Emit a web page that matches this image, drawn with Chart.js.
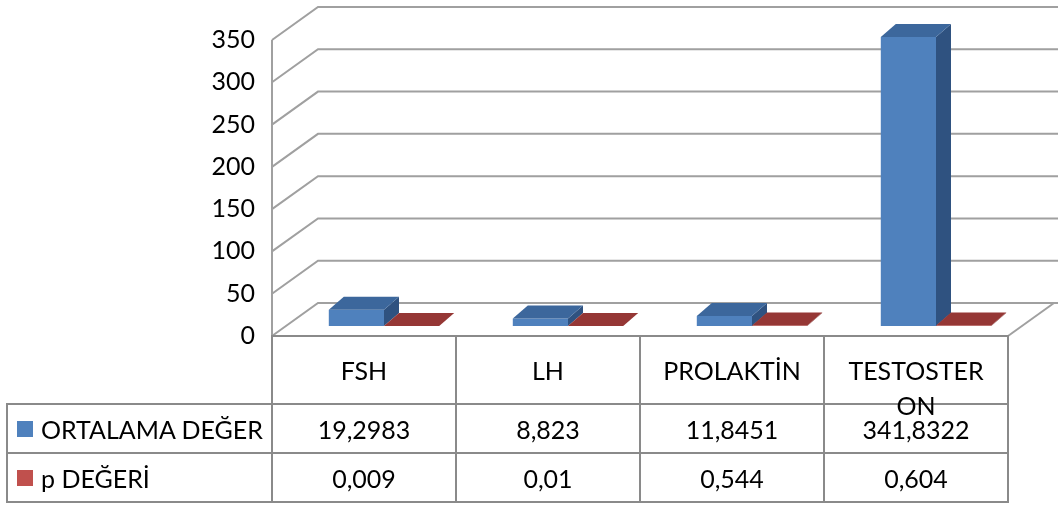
<!DOCTYPE html>
<html>
<head>
<meta charset="utf-8">
<script src="https://cdn.jsdelivr.net/npm/chart.js@4"></script>
<style>
  html, body { margin: 0; padding: 0; background: #fff; }
  #wrap { position: relative; width: 1058px; height: 507px; overflow: hidden; }
  #c { position: absolute; left: 0; top: 0; }
  #tbl { position: absolute; left: 0; top: 0; width: 1058px; height: 507px; pointer-events: none;
         font-family: Lato, "Open Sans", sans-serif; font-size: 25px; color: #000; }
  .hl { position: absolute; height: 2px; background: #8a8a8a; }
  .vl { position: absolute; width: 2px; background: #8a8a8a; }
  .cell { position: absolute; display: flex; align-items: center; justify-content: center; text-align: center; white-space: nowrap; }
  .head { position: absolute; text-align: center; line-height: 35px; word-break: break-all; box-sizing: border-box; padding: 17px 16px 0 16px; }
  .leg { position: absolute; display: flex; align-items: center; white-space: nowrap; }
  .sw { display: inline-block; width: 16px; height: 16px; margin-right: 8px; }
</style>
</head>
<body>
<div id="wrap">
  <canvas id="c" width="1058" height="507"></canvas>
  <div id="tbl"></div>
</div>
<script>
// ---- data ----
const categories = ["FSH", "LH", "PROLAKTİN", "TESTOSTERON"];
const seriesNames = ["ORTALAMA DEĞER", "p DEĞERİ"];
const ortalamaDeger = [19.2983, 8.823, 11.8451, 341.8322];
const pDegeri = [0.009, 0.01, 0.544, 0.604];
const yMin = 0, yMax = 350, yStep = 50;

// ---- style / layout ----
const colors = {
  blueFront: "#4F81BD", blueTop: "#3C679C", blueSide: "#2F5280",
  redFront: "#C0504D", redTop: "#953735", redSide: "#7A2C2A",
  grid: "#a0a0a0"
};
const plotLeft = 272, plotRight = 1008, plotTop = 40, plotBottom = 336;
const barShift = { dx: 20, dy: -10 };   // bar plane relative to front plane
const wallDepth = { dx: 46, dy: -33 };  // back wall relative to front plane
const barDepth = { dx: 15, dy: -13 };   // depth of each 3D bar

const wallsPlugin = {
  id: "walls",
  beforeDatasetsDraw(chart) {
    const ctx = chart.ctx, y = chart.scales.y;
    ctx.save();
    ctx.strokeStyle = colors.grid;
    ctx.lineWidth = 2;
    const W = chart.width;
    for (let v = yMin; v <= yMax; v += yStep) {
      const py = y.getPixelForValue(v);
      ctx.beginPath();
      ctx.moveTo(plotLeft, py);
      ctx.lineTo(plotLeft + wallDepth.dx, py + wallDepth.dy);
      ctx.lineTo(W + 5, py + wallDepth.dy);
      ctx.stroke();
    }
    ctx.beginPath();
    ctx.moveTo(plotLeft, y.getPixelForValue(yMax));
    ctx.lineTo(plotLeft, y.getPixelForValue(yMin));
    ctx.stroke();
    const p0 = y.getPixelForValue(yMin);
    ctx.beginPath();
    ctx.moveTo(plotRight, p0);
    ctx.lineTo(plotRight + wallDepth.dx, p0 + wallDepth.dy);
    ctx.stroke();
    ctx.restore();
    ctx.save();
    ctx.translate(barShift.dx, barShift.dy);
  },
  afterDatasetsDraw(chart) {
    const ctx = chart.ctx;
    const faces = [
      [colors.blueTop, colors.blueSide],
      [colors.redTop, colors.redSide]
    ];
    chart.data.datasets.forEach((ds, di) => {
      const meta = chart.getDatasetMeta(di);
      meta.data.forEach(bar => {
        const p = bar.getProps(["x", "y", "base", "width"], true);
        const xl = p.x - p.width / 2, xr = p.x + p.width / 2;
        const top = Math.min(p.y, p.base), base = Math.max(p.y, p.base);
        ctx.fillStyle = faces[di][1];
        ctx.beginPath();
        ctx.moveTo(xr, top); ctx.lineTo(xr, base);
        ctx.lineTo(xr + barDepth.dx, base + barDepth.dy);
        ctx.lineTo(xr + barDepth.dx, top + barDepth.dy);
        ctx.closePath(); ctx.fill();
        ctx.fillStyle = faces[di][0];
        ctx.beginPath();
        ctx.moveTo(xl, top); ctx.lineTo(xr, top);
        ctx.lineTo(xr + barDepth.dx, top + barDepth.dy);
        ctx.lineTo(xl + barDepth.dx, top + barDepth.dy);
        ctx.closePath(); ctx.fill();
      });
    });
    ctx.restore();
  }
};

new Chart(document.getElementById("c"), {
  type: "bar",
  data: {
    labels: categories,
    datasets: [
      { label: seriesNames[0], data: ortalamaDeger, backgroundColor: colors.blueFront, borderWidth: 0 },
      { label: seriesNames[1], data: pDegeri, backgroundColor: colors.redFront, borderWidth: 0 }
    ]
  },
  options: {
    responsive: false,
    devicePixelRatio: 1,
    animation: false,
    events: [],
    layout: { padding: { left: 0, top: plotTop, right: 1058 - plotRight, bottom: 507 - plotBottom } },
    datasets: { bar: { categoryPercentage: 0.6, barPercentage: 1.0, clip: false } },
    plugins: { legend: { display: false }, tooltip: { enabled: false }, title: { display: false } },
    scales: {
      x: { type: "category", display: false, offset: true },
      y: {
        min: yMin, max: yMax,
        afterFit(scale) { scale.width = plotLeft; },
        grid: { display: false },
        border: { display: false },
        ticks: { stepSize: yStep, padding: 9, color: "#000",
                 font: { family: "Lato", size: 25 } }
      }
    }
  },
  plugins: [wallsPlugin]
});

// ---- data table ----
const tbl = document.getElementById("tbl");
const colW = (plotRight - plotLeft) / categories.length;
const cols = categories.map((_, i) => plotLeft + i * colW);
const rowTop = [plotBottom, 404, 453, 502];
const legLeft = 7;
function add(cls, style) {
  const d = document.createElement("div");
  d.className = cls;
  Object.assign(d.style, style);
  tbl.appendChild(d);
  return d;
}
const fmt = v => String(v).replace(".", ",");
add("hl", { left: (plotLeft - 1) + "px", top: (rowTop[0] - 1) + "px", width: (plotRight - plotLeft + 2) + "px" });
for (let r = 1; r < 4; r++)
  add("hl", { left: (legLeft - 1) + "px", top: (rowTop[r] - 1) + "px", width: (plotRight - legLeft + 2) + "px" });
add("vl", { left: (legLeft - 1) + "px", top: (rowTop[1] - 1) + "px", height: (rowTop[3] - rowTop[1] + 2) + "px" });
for (let i = 0; i <= categories.length; i++) {
  const x = plotLeft + i * colW;
  add("vl", { left: (x - 1) + "px", top: (rowTop[0] - 1) + "px", height: (rowTop[3] - rowTop[0] + 2) + "px" });
}
categories.forEach((c, i) => {
  add("head", { left: cols[i] + "px", top: rowTop[0] + "px", width: colW + "px" }).textContent = c;
});
const rows = [ortalamaDeger, pDegeri];
const swatch = [colors.blueFront, colors.redFront];
rows.forEach((vals, r) => {
  const t = rowTop[r + 1], h = rowTop[r + 2] - t;
  const lg = add("leg", { left: (legLeft + 10) + "px", top: t + "px", height: h + "px" });
  const sw = document.createElement("span"); sw.className = "sw"; sw.style.background = swatch[r];
  lg.appendChild(sw);
  lg.appendChild(document.createTextNode(seriesNames[r]));
  vals.forEach((v, i) => {
    add("cell", { left: cols[i] + "px", top: t + "px", width: colW + "px", height: h + "px" }).textContent = fmt(v);
  });
});
</script>
</body>
</html>
